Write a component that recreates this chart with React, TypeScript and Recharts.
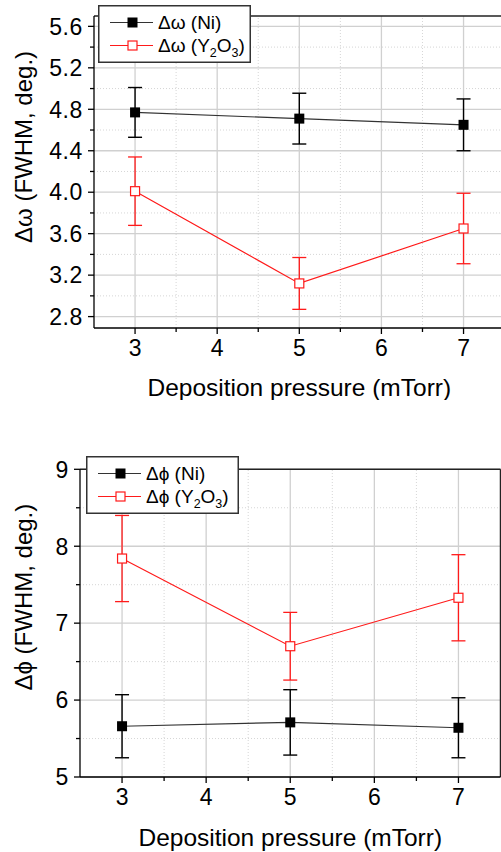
import { LineChart, Line, XAxis, YAxis, ErrorBar, ReferenceLine, Legend, Label } from "recharts";

const pressures = [3, 5, 7];
const omegaNi = [4.77, 4.71, 4.65];
const omegaNiErr = [0.24, 0.245, 0.25];
const omegaY2O3 = [4.01, 3.12, 3.65];
const omegaY2O3Err = [0.33, 0.25, 0.34];
const phiNi = [5.66, 5.71, 5.64];
const phiNiErr = [0.41, 0.425, 0.39];
const phiY2O3 = [7.84, 6.7, 7.33];
const phiY2O3Err = [0.56, 0.44, 0.56];

const xMajor = [3, 4, 5, 6, 7];
const xMinor = [3.5, 4.5, 5.5, 6.5];
const omegaMajor = [2.8, 3.2, 3.6, 4.0, 4.4, 4.8, 5.2, 5.6];
const omegaMinor = [3.0, 3.4, 3.8, 4.2, 4.6, 5.0, 5.4];
const phiMajor = [5, 6, 7, 8, 9];
const phiMinor = [5.5, 6.5, 7.5, 8.5];

const FONT = "'Liberation Sans', Arial, Helvetica, sans-serif";
const RED = "#ff1a1a";

const omegaData = pressures.map((x, i) => ({
  x,
  ni: omegaNi[i],
  niErr: omegaNiErr[i],
  y2o3: omegaY2O3[i],
  y2o3Err: omegaY2O3Err[i],
}));
const phiData = pressures.map((x, i) => ({
  x,
  ni: phiNi[i],
  niErr: phiNiErr[i],
  y2o3: phiY2O3[i],
  y2o3Err: phiY2O3Err[i],
}));

const sortNum = (a: number[]) => [...a].sort((p, q) => p - q);

function makeXTick(majors: number[]) {
  return (props: any) => {
    const { x, y, payload } = props;
    const major = majors.includes(payload.value);
    return (
      <g>
        <line x1={x} y1={y} x2={x} y2={y + (major ? 6 : 4)} stroke="#000" strokeWidth={1.3} />
        {major && (
          <text x={x} y={y + 28} textAnchor="middle" fontSize={23} fontFamily={FONT} fill="#000">
            {payload.value}
          </text>
        )}
      </g>
    );
  };
}

function makeYTick(majors: number[], digits: number) {
  return (props: any) => {
    const { x, y, payload } = props;
    const major = majors.some((m) => Math.abs(m - payload.value) < 1e-6);
    return (
      <g>
        <line x1={x - (major ? 6 : 4)} y1={y} x2={x} y2={y} stroke="#000" strokeWidth={1.3} />
        {major && (
          <text
            x={x - 11}
            y={y}
            dy="0.36em"
            textAnchor="end"
            fontSize={23}
            letterSpacing={0.6}
            fontFamily={FONT}
            fill="#000"
          >
            {payload.value.toFixed(digits)}
          </text>
        )}
      </g>
    );
  };
}

const filledSquare = (p: any) => (
  <rect key={`f${p.index}`} x={p.cx - 5} y={p.cy - 5} width={10} height={10} fill="#000" />
);
const openSquare = (p: any) => (
  <rect key={`o${p.index}`} x={p.cx - 4.5} y={p.cy - 4.5} width={9} height={9} fill="#fff" stroke={RED} strokeWidth={1.2} />
);

function LegendBox({ sym }: { sym: string }) {
  return (
    <svg width={153} height={58} style={{ display: "block" }} fontFamily={FONT}>
      <rect x={0.75} y={0.75} width={151.5} height={56.5} fill="#fff" stroke="#333" strokeWidth={1.5} />
      <line x1={12} y1={17.5} x2={55} y2={17.5} stroke="#333" strokeWidth={1.2} />
      <rect x={29.5} y={12.5} width={10} height={10} fill="#000" />
      <text x={60} y={17.5} dy="0.36em" fontSize={19} fill="#000">
        {`Δ${sym} (Ni)`}
      </text>
      <line x1={12} y1={40.5} x2={55} y2={40.5} stroke={RED} strokeWidth={1.2} />
      <rect x={30} y={36} width={9} height={9} fill="#fff" stroke={RED} strokeWidth={1.2} />
      <text x={60} y={40.5} dy="0.36em" fontSize={19} fill="#000">
        {`Δ${sym} (Y`}
        <tspan fontSize={12.5} dy={5}>2</tspan>
        <tspan dy={-5}>O</tspan>
        <tspan fontSize={12.5} dy={5}>3</tspan>
        <tspan dy={-5}>)</tspan>
      </text>
    </svg>
  );
}

function Panel(props: {
  data: any[];
  width: number;
  height: number;
  margin: { top: number; right: number; left: number; bottom: number };
  yWidth: number;
  xHeight: number;
  yDomain: [number, number];
  yMajor: number[];
  yMinor: number[];
  digits: number;
  sym: string;
  legendPos: { left: number; top: number };
  titleShift: number;
  xTitleOffset: number;
}) {
  const { data, yDomain, yMajor, yMinor, sym } = props;
  return (
    <LineChart width={props.width} height={props.height} data={data} margin={props.margin}>
      {xMinor.map((v) => (
        <ReferenceLine key={`xm${v}`} x={v} stroke="#d6d6d6" strokeDasharray="1 2" strokeWidth={1} />
      ))}
      {yMinor.map((v) => (
        <ReferenceLine key={`ym${v}`} y={v} stroke="#d6d6d6" strokeDasharray="1 2" strokeWidth={1} />
      ))}
      {xMajor.map((v) => (
        <ReferenceLine key={`xM${v}`} x={v} stroke="#d0d0d0" strokeWidth={1.3} />
      ))}
      {yMajor.map((v) => (
        <ReferenceLine key={`yM${v}`} y={v} stroke="#d0d0d0" strokeWidth={1.3} />
      ))}
      <ReferenceLine y={yDomain[1]} stroke="#222" strokeWidth={1.5} />
      <ReferenceLine x={7.5} stroke="#222" strokeWidth={1.5} />
      <XAxis
        dataKey="x"
        type="number"
        domain={[2.5, 7.5]}
        ticks={sortNum([...xMajor, ...xMinor])}
        interval={0}
        tickSize={0}
        tickMargin={0}
        tickLine={false}
        tick={makeXTick(xMajor)}
        axisLine={{ stroke: "#000", strokeWidth: 1.3 }}
        height={props.xHeight}
        allowDataOverflow
      >
        <Label
          content={(p: any) => {
            const vb = p.viewBox;
            return (
              <text
                x={vb.x + vb.width / 2}
                y={vb.y + vb.height - props.xTitleOffset}
                textAnchor="middle"
                fontSize={24.5}
                fontFamily={FONT}
                fill="#000"
              >
                Deposition pressure (mTorr)
              </text>
            );
          }}
        />
      </XAxis>
      <YAxis
        type="number"
        domain={yDomain}
        ticks={sortNum([...yMajor, ...yMinor])}
        interval={0}
        tickSize={0}
        tickMargin={0}
        tickLine={false}
        tick={makeYTick(yMajor, props.digits)}
        axisLine={{ stroke: "#000", strokeWidth: 1.3 }}
        width={props.yWidth}
        allowDataOverflow
      >
        <Label
          content={(p: any) => {
            const vb = p.viewBox;
            const cx = 23;
            const cy = vb.y + vb.height / 2 - props.titleShift;
            return (
              <text
                x={cx}
                y={cy}
                dy="0.36em"
                transform={`rotate(-90 ${cx} ${cy})`}
                textAnchor="middle"
                fontSize={24}
                fontFamily={FONT}
                fill="#000"
              >
                {`Δ${sym} (FWHM, deg.)`}
              </text>
            );
          }}
        />
      </YAxis>
      <Legend
        layout="vertical"
        verticalAlign="middle"
        align="center"
        wrapperStyle={{ position: "absolute", left: props.legendPos.left, top: props.legendPos.top, width: 153, height: 58 }}
        content={() => <LegendBox sym={sym} />}
      />
      <Line
        dataKey="ni"
        stroke="#333"
        strokeWidth={1.2}
        dot={filledSquare}
        activeDot={false}
        isAnimationActive={false}
      >
        <ErrorBar dataKey="niErr" width={7} stroke="#000" strokeWidth={1.4} isAnimationActive={false} />
      </Line>
      <Line
        dataKey="y2o3"
        stroke={RED}
        strokeWidth={1.2}
        dot={openSquare}
        activeDot={false}
        isAnimationActive={false}
      >
        <ErrorBar dataKey="y2o3Err" width={7} stroke={RED} strokeWidth={1.3} isAnimationActive={false} />
      </Line>
    </LineChart>
  );
}

export default function App() {
  return (
    <div style={{ position: "absolute", left: 0, top: 0, width: 501, height: 852, overflow: "hidden", background: "#fff" }}>
      <div style={{ position: "absolute", left: 0, top: 0 }}>
        <Panel
          data={omegaData}
          width={520}
          height={400}
          margin={{ top: 16, right: 15.4, left: 0, bottom: 0 }}
          yWidth={94}
          xHeight={72}
          yDomain={[2.69, 5.7]}
          yMajor={omegaMajor}
          yMinor={omegaMinor}
          digits={1}
          sym="ω"
          legendPos={{ left: 98, top: 5 }}
          titleShift={25}
          xTitleOffset={4}
        />
      </div>
      <div style={{ position: "absolute", left: 0, top: 430 }}>
        <Panel
          data={phiData}
          width={501}
          height={422}
          margin={{ top: 39.3, right: 0.5, left: 0, bottom: 0 }}
          yWidth={80}
          xHeight={75}
          yDomain={[5, 9]}
          yMajor={phiMajor}
          yMinor={phiMinor}
          digits={0}
          sym="ϕ"
          legendPos={{ left: 86, top: 26 }}
          titleShift={26}
          xTitleOffset={6}
        />
      </div>
    </div>
  );
}
